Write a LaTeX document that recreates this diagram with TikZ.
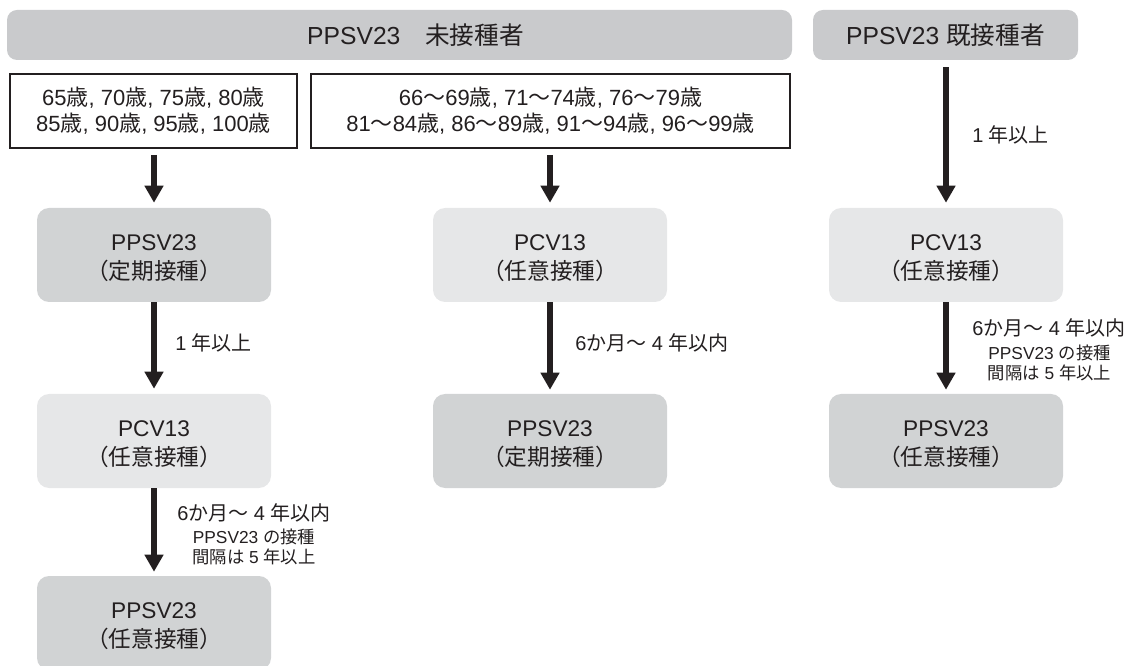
\documentclass[tikz,border=0pt]{standalone}
\usepackage{fontspec}
\setmainfont{Liberation Sans}
\newfontfamily\jp{Noto Sans CJK JP}
\usetikzlibrary{arrows.meta}
\definecolor{ink}{HTML}{231F20}
\definecolor{hdrfill}{HTML}{C9CACC}
\definecolor{lightfill}{HTML}{E6E7E8}
\definecolor{midfill}{HTML}{D1D3D4}
\newcommand\J[1]{{\jp #1}}
\newcommand\myLP{\null\kern-.5em（}
\newcommand\myRP{）\kern-.5em}
\newcommand\myTop{\rule{0pt}{17pt}}
\begin{document}
\begin{tikzpicture}[x=0.75pt,y=-0.75pt,
  every node/.style={text=ink},
  hdr/.style={fill=hdrfill, rounded corners=7.5pt, minimum height=37.5pt, inner sep=0pt, font=\fontsize{18.5}{20}\selectfont},
  agebox/.style={draw=ink, line width=1.5pt, minimum height=55.5pt, inner sep=0pt, align=center, font=\fontsize{16.5}{19.5}\selectfont},
  vac/.style={rounded corners=9pt, minimum width=175.5pt, minimum height=70.5pt, inner sep=0pt, align=center, font=\fontsize{17}{21.75}\selectfont},
  pcv/.style={vac, fill=lightfill},
  ppsv/.style={vac, fill=midfill},
  arr/.style={draw=ink, line width=4.5pt, -{Triangle[width=13.5pt,length=12.75pt]}},
  lbl/.style={anchor=west, inner sep=0pt, font=\fontsize{15}{16}\selectfont},
  note/.style={inner sep=0pt, align=center, font=\fontsize{13}{15}\selectfont}]
\useasboundingbox (0,0) rectangle (1128,666);
\clip (0,0) rectangle (1128,666);
% headers
\node[hdr, minimum width=588.75pt] (h1) at (399.5,35) {\hspace{24pt}PPSV23\J{　未接種者}};
\node[hdr, minimum width=198.75pt] (h2) at (945.5,35) {PPSV23 \J{既接種者}};
% age boxes
\node[agebox, minimum width=215.25pt] (b1) at (153.5,111)
  {65\J{歳}, 70\J{歳}, 75\J{歳}, 80\J{歳}\\85\J{歳}, 90\J{歳}, 95\J{歳}, 100\J{歳}};
\node[agebox, minimum width=359.25pt] (b2) at (550.5,111)
  {66\J{～}69\J{歳}, 71\J{～}74\J{歳}, 76\J{～}79\J{歳}\\81\J{～}84\J{歳}, 86\J{～}89\J{歳}, 91\J{～}94\J{歳}, 96\J{～}99\J{歳}};
% vaccine boxes
\node[ppsv] (l1) at (154,255) {\myTop PPSV23\\\J{\myLP 定期接種\myRP}};
\node[pcv]  (l2) at (154,441) {\myTop PCV13\\\J{\myLP 任意接種\myRP}};
\node[ppsv] (l3) at (154,623) {\myTop PPSV23\\\J{\myLP 任意接種\myRP}};
\node[pcv]  (m1) at (550,255) {\myTop PCV13\\\J{\myLP 任意接種\myRP}};
\node[ppsv] (m2) at (550,441) {\myTop PPSV23\\\J{\myLP 定期接種\myRP}};
\node[pcv]  (r1) at (946,255) {\myTop PCV13\\\J{\myLP 任意接種\myRP}};
\node[ppsv] (r2) at (946,441) {\myTop PPSV23\\\J{\myLP 任意接種\myRP}};
% arrows
\draw[arr, shorten <=4.5pt, shorten >=3.75pt] (b1.south -| l1.north) -- (l1.north);
\draw[arr, shorten >=3.75pt] (l1) -- (l2);
\draw[arr, shorten >=3pt] (l2) -- (l3);
\draw[arr, shorten <=4.5pt, shorten >=3.75pt] (b2.south -| m1.north) -- (m1.north);
\draw[arr, shorten >=3pt] (m1) -- (m2);
\draw[arr, shorten <=5.25pt, shorten >=3.75pt] (h2.south -| r1.north) -- (r1.north);
\draw[arr, shorten >=3pt] (r1) -- (r2);
% labels
\node[lbl] (t1) at (175,343) {1 \J{年以上}};
\node[lbl] (t2) at (177,513) {6\J{か月～} 4 \J{年以内}};
\node[note] (t3) at (254,547) {PPSV23 \J{の接種}\\\J{間隔は} 5 \J{年以上}};
\node[lbl] (t4) at (575,343) {6\J{か月～} 4 \J{年以内}};
\node[lbl] (t5) at (972,135) {1 \J{年以上}};
\node[lbl] (t6) at (972,328) {6\J{か月～} 4 \J{年以内}};
\node[note] (t7) at (1049.5,362.5) {PPSV23 \J{の接種}\\\J{間隔は} 5 \J{年以上}};
\end{tikzpicture}
\end{document}
